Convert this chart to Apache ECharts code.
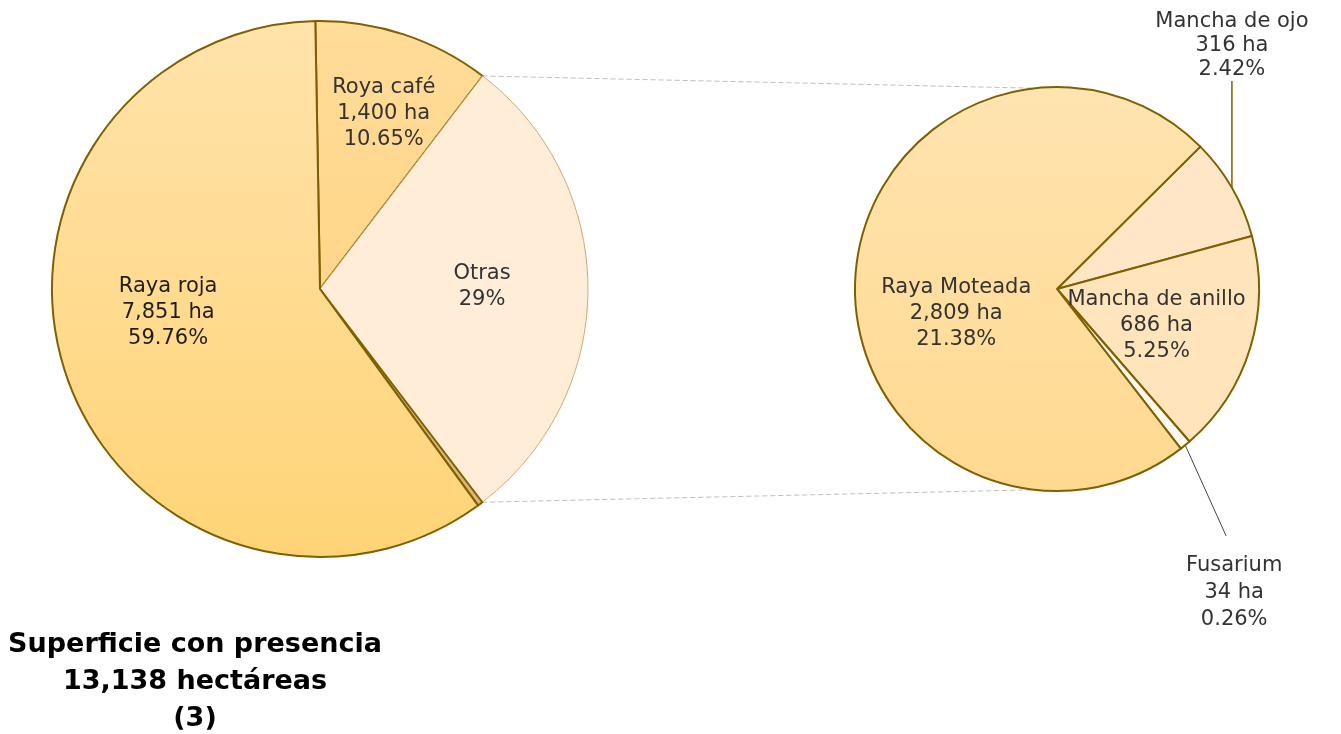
<!DOCTYPE html>
<html>
<head>
<meta charset="utf-8">
<script src="https://cdn.jsdelivr.net/npm/echarts@6/dist/echarts.min.js"></script>
<style>
  html, body { margin: 0; padding: 0; background: #fff; }
  #chart { width: 1341px; height: 734px; }
</style>
</head>
<body>
<div id="chart"></div>
<script>
// main pie (total 13,138 ha)
const mainNames = ['Roya café', 'Otras', '', 'Raya roja'];
const mainValues = [1400, 3845, 42, 7851];
const mainPcts = ['10.65%', '29%', '', '59.76%'];

// breakdown of "Otras"
const subNames = ['Mancha de ojo', 'Mancha de anillo', 'Fusarium', 'Raya Moteada'];
const subValues = [316, 686, 34, 2809];
const subPcts = ['2.42%', '5.25%', '0.26%', '21.38%'];

const titleLines = ['Superficie con presencia', '13,138 hectáreas', '(3)'];

const FONT = 'DejaVu Sans';
const BORDER = '#7f6000';

const leftC = [320, 289], leftR = 268, leftStart = 91;
const rightC = [1057, 289], rightR = 202, rightStart = 44.8;

function fmt(v) {
  return v.toLocaleString('en-US');
}

function grad(top, bottom) {
  return new echarts.graphic.LinearGradient(0, 0, 0, 1, [
    { offset: 0, color: top },
    { offset: 1, color: bottom }
  ]);
}

const mainColors = [grad('#ffdc98', '#ffd68a'), '#ffedd8', '#d9b77a', grad('#ffe3ab', '#ffd477')];
const subColors = ['#ffe6c6', '#ffe4bc', '#fff8f0', grad('#ffe4b0', '#ffd990')];

// label nudges from the default inside position
const mainOffsets = [[21, -45], [25, -3], [0, 0], [-22, -20]];
const subOffsets = [[0, 0], [0, 6], [0, 0], [3, 31]];

// "Otras" shows only its share, the rest show name / area / share
function mainLabel(i) {
  if (i === 1) return mainNames[i] + '\n' + mainPcts[i];
  return mainNames[i] + '\n' + fmt(mainValues[i]) + ' ha\n' + mainPcts[i];
}

const mainData = mainNames.map((n, i) => ({
  name: n,
  value: mainValues[i],
  itemStyle: i === 1
    ? { color: mainColors[i], borderColor: '#c9ab74', borderWidth: 1 }
    : { color: mainColors[i], borderColor: BORDER, borderWidth: 2 },
  label: n
    ? { show: true, offset: mainOffsets[i], formatter: mainLabel(i),
        color: i === 3 ? '#1e1e1e' : '#333' }
    : { show: false }
}));

const subData = subNames.map((n, i) => {
  const outside = i === 0 || i === 2;
  return {
    name: n,
    value: subValues[i],
    itemStyle: { color: subColors[i], borderColor: BORDER, borderWidth: 2 },
    label: {
      show: true,
      position: outside ? 'outside' : 'inside',
      offset: outside ? [0, 0] : subOffsets[i],
      lineHeight: i === 0 ? 24 : (i === 2 ? 27 : 26),
      formatter: n + '\n' + fmt(subValues[i]) + ' ha\n' + subPcts[i]
    },
    labelLine: {
      show: outside,
      lineStyle: { color: i === 0 ? BORDER : '#444', width: i === 0 ? 1.5 : 1 }
    }
  };
});

// connector lines from the "Otras" slice to the second pie
function pt(c, r, deg) {
  const a = deg * Math.PI / 180;
  return [c[0] + r * Math.cos(a), c[1] - r * Math.sin(a)];
}
const total = mainValues.reduce((a, b) => a + b, 0);
const otrasFrom = leftStart - mainValues[0] / total * 360;
const otrasTo = otrasFrom - mainValues[1] / total * 360;
const p1 = pt(leftC, leftR, otrasFrom), p2 = pt(leftC, leftR, otrasTo);
const q1 = pt(rightC, rightR, 96.3), q2 = pt(rightC, rightR, -96.3);

const chart = echarts.init(document.getElementById('chart'));
chart.setOption({
  animation: false,
  textStyle: { fontFamily: FONT },
  graphic: [
    { type: 'line', shape: { x1: p1[0], y1: p1[1], x2: q1[0], y2: q1[1] },
      style: { stroke: '#bdbdbd', lineWidth: 1, lineDash: [5, 3] }, z: 0 },
    { type: 'line', shape: { x1: p2[0], y1: p2[1], x2: q2[0], y2: q2[1] },
      style: { stroke: '#bdbdbd', lineWidth: 1, lineDash: [5, 3] }, z: 0 },
    { type: 'text', x: 195, y: 626,
      style: { text: titleLines.join('\n'), font: 'bold 27px ' + FONT, fill: '#000',
               align: 'center', verticalAlign: 'top', lineHeight: 37 } }
  ],
  series: [
    {
      type: 'pie',
      center: leftC,
      radius: leftR,
      startAngle: leftStart,
      clockwise: true,
      avoidLabelOverlap: false,
      label: { position: 'inside', fontSize: 21, lineHeight: 26, color: '#333', fontFamily: FONT },
      labelLine: { show: false },
      emphasis: { disabled: true },
      data: mainData
    },
    {
      type: 'pie',
      center: rightC,
      radius: rightR,
      startAngle: rightStart,
      clockwise: true,
      avoidLabelOverlap: false,
      label: { fontSize: 21, color: '#333', fontFamily: FONT },
      emphasis: { disabled: true },
      data: subData,
      labelLayout: function (p) {
        if (!p.labelLinePoints) return {};
        const s = p.labelLinePoints[0];
        if (p.dataIndex === 0) {
          return {
            x: s[0], y: s[1] - 106, align: 'center', verticalAlign: 'bottom',
            labelLinePoints: [s, [s[0], s[1] - 107], [s[0], s[1] - 107]]
          };
        }
        if (p.dataIndex === 2) {
          return {
            x: s[0] + 49, y: s[1] + 107, align: 'center', verticalAlign: 'top',
            labelLinePoints: [s, [s[0] + 41, s[1] + 91], [s[0] + 41, s[1] + 91]]
          };
        }
        return {};
      }
    }
  ]
});
</script>
</body>
</html>
